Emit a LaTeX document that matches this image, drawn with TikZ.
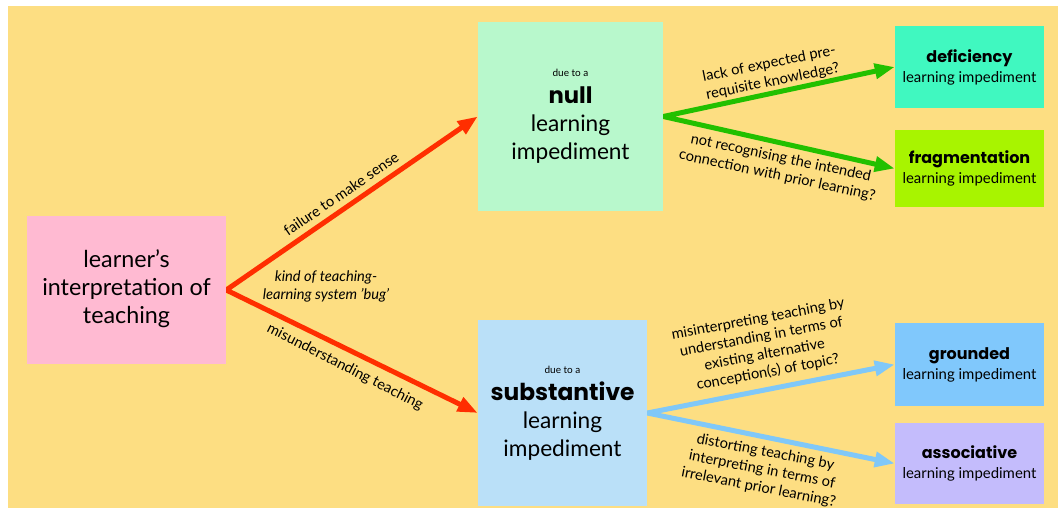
\documentclass[tikz,border=0pt]{standalone}
\usepackage{fontspec}
\setmainfont{Lato}
\newfontfamily\heavyfont{Poppins}
\usetikzlibrary{arrows.meta}
\definecolor{bg}{HTML}{FDDE82}
\definecolor{pinkbox}{HTML}{FFBAD2}
\definecolor{mintbox}{HTML}{B8F8CC}
\definecolor{lbluebox}{HTML}{BAE0F8}
\definecolor{defbox}{HTML}{40F8C0}
\definecolor{fragbox}{HTML}{A8F400}
\definecolor{grndbox}{HTML}{80C8FC}
\definecolor{assobox}{HTML}{C4BCFC}
\definecolor{redarr}{HTML}{FF2E00}
\definecolor{greenarr}{HTML}{22C000}
\definecolor{bluearr}{HTML}{80C8F8}
\pgfdeclarelayer{paper}
\pgfdeclarelayer{edges}
\pgfsetlayers{paper,edges,main}
\newcommand{\hv}[1]{{\heavyfont\bfseries #1}}
\begin{document}
\begin{tikzpicture}[x=0.75pt,y=-0.75pt,
  box/.style={inner sep=0pt, align=center, text=black},
  bigbox/.style={box, font=\fontsize{17}{21}\selectfont},
  smallbox/.style={box, font=\fontsize{11.2}{15}\selectfont, minimum width=111.75pt},
  lbl/.style={inner sep=0pt, align=center, text=black, font=\fontsize{11}{13.5}\selectfont},
  dblarr/.style={line width=3.75pt, line join=miter, {Triangle[length=15pt,width=11pt]}-{Triangle[length=15pt,width=11pt]}}
]
\path[use as bounding box] (0,0) rectangle (1058,508);
\begin{pgfonlayer}{paper}
\fill[bg] (8,6) rectangle (1058,508);
\end{pgfonlayer}

% boxes
\node[box, fill=pinkbox, minimum width=149.25pt, minimum height=111pt,
      font=\fontsize{17.5}{21}\selectfont] (learner) at (126.5,290)
      {\raisebox{5.5pt}{learner's}\\\raisebox{5.5pt}{interpretation of}\\\raisebox{5.5pt}{teaching}};
\node[bigbox, fill=mintbox, minimum width=138.75pt, minimum height=141.75pt] (null) at (570.5,116.5)
      {{\fontsize{7.5}{9}\selectfont due to a}\\[-1pt]{\fontsize{17}{21}\selectfont\hv{null}}\\learning\\impediment};
\node[bigbox, fill=lbluebox, minimum width=126.75pt, minimum height=139.5pt] (subst) at (562.5,413)
      {{\fontsize{7.5}{9}\selectfont due to a}\\[-1pt]{\fontsize{17.5}{21}\selectfont\hv{substantive}}\\learning\\impediment};
\node[smallbox, fill=defbox, minimum height=61.5pt] (def) at (969.5,67)
      {{\fontsize{12}{15}\selectfont\hv{deficiency}}\\learning impediment};
\node[smallbox, fill=fragbox, minimum height=57.75pt] (frag) at (969.5,168.5)
      {{\fontsize{12}{15}\selectfont\hv{fragmentation}}\\learning impediment};
\node[smallbox, fill=grndbox, minimum height=62.25pt] (grnd) at (969.5,364.5)
      {{\fontsize{12}{15}\selectfont\hv{grounded}}\\learning impediment};
\node[smallbox, fill=assobox, minimum height=60.75pt] (asso) at (969.5,463.5)
      {{\fontsize{12}{15}\selectfont\hv{associative}}\\learning impediment};

% connectors (drawn beneath the boxes)
\begin{pgfonlayer}{edges}
\draw[dblarr, redarr] (null.west) -- (learner.east) -- (subst.west);
\draw[dblarr, greenarr] (def.west) -- (null.east) -- (frag.west);
\draw[dblarr, bluearr] (grnd.west) -- (subst.east) -- (asso.west);
\end{pgfonlayer}

% labels
\node[lbl, rotate=34.5] (lfail) at (341,194) {failure to make sense};
\node[lbl, rotate=-27] (lmis) at (345,367) {misunderstanding teaching};
\node[lbl, font=\fontsize{11}{13.5}\selectfont\itshape] (lbug) at (326,286) {kind of teaching-\\learning system 'bug'};
\node[lbl, rotate=11.5] (llack) at (771,73) {lack of expected pre-\\requisite knowledge?};
\node[lbl, rotate=-12] (lnot) at (779,167) {not recognising the intended\\connection with prior learning?};
\node[lbl, rotate=10.5] (lmisint) at (763,346) {misinterpreting teaching by\\understanding in terms of\\existing alternative\\conception(s) of topic?};
\node[lbl, rotate=-11] (ldist) at (762,470) {distorting teaching by\\interpreting in terms of\\irrelevant prior learning?};
\end{tikzpicture}
\end{document}
